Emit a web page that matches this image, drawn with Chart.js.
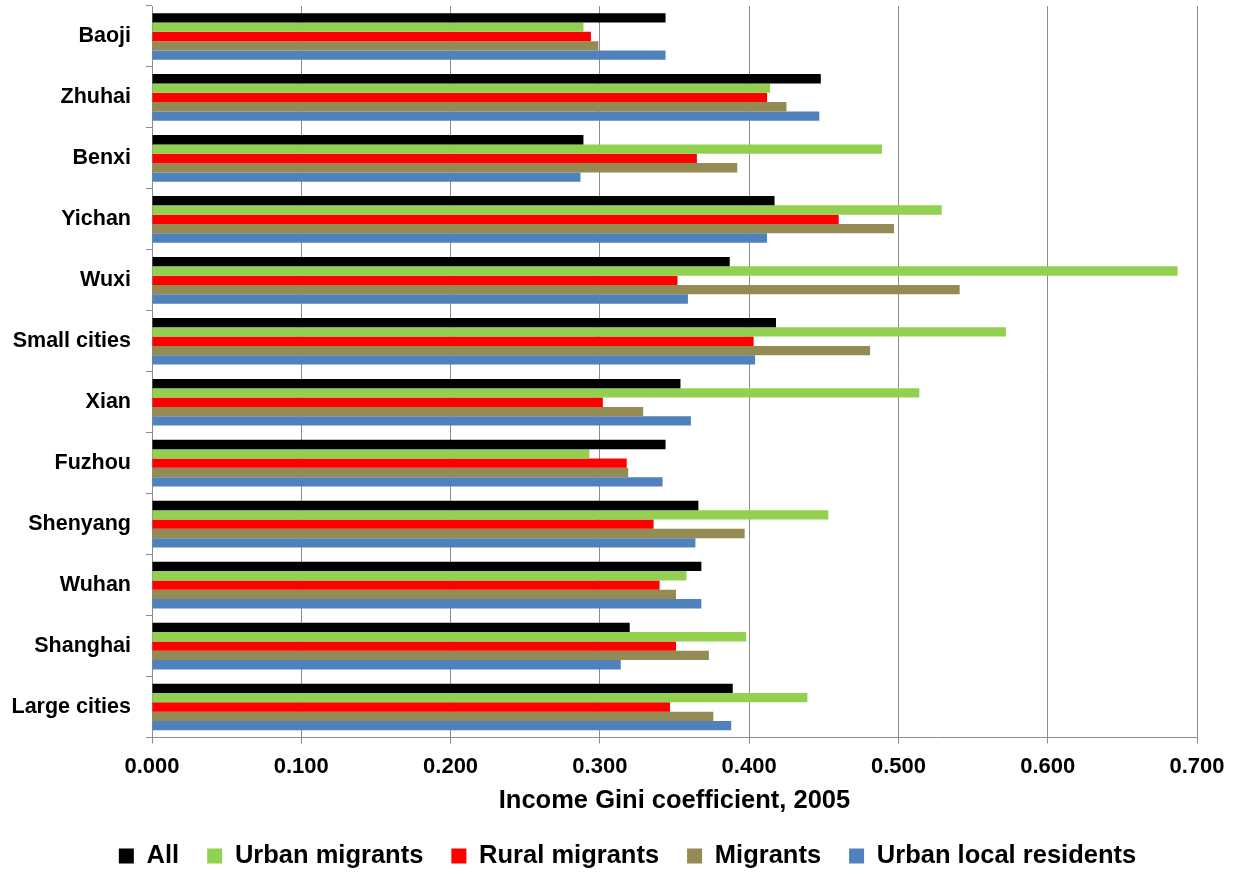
<!DOCTYPE html>
<html>
<head>
<meta charset="utf-8">
<script src="https://cdn.jsdelivr.net/npm/chart.js@4.4.1/dist/chart.umd.min.js"></script>
<style>
  html, body { margin: 0; padding: 0; background: #ffffff; }
  #wrap { width: 1236px; height: 874px; position: relative; }
</style>
</head>
<body>
<div id="wrap"><canvas id="gini"></canvas></div>
<script>
// Income Gini coefficients by city and population group, 2005
const cities = ['Baoji', 'Zhuhai', 'Benxi', 'Yichan', 'Wuxi', 'Small cities',
                'Xian', 'Fuzhou', 'Shenyang', 'Wuhan', 'Shanghai', 'Large cities'];

const giniAll            = [0.344, 0.448, 0.289, 0.417, 0.387, 0.418, 0.354, 0.344, 0.366, 0.368, 0.320, 0.389];
const giniUrbanMigrants  = [0.289, 0.414, 0.489, 0.529, 0.687, 0.572, 0.514, 0.293, 0.453, 0.358, 0.398, 0.439];
const giniRuralMigrants  = [0.294, 0.412, 0.365, 0.460, 0.352, 0.403, 0.302, 0.318, 0.336, 0.340, 0.351, 0.347];
const giniMigrants       = [0.299, 0.425, 0.392, 0.497, 0.541, 0.481, 0.329, 0.319, 0.397, 0.351, 0.373, 0.376];
const giniUrbanLocals    = [0.344, 0.447, 0.287, 0.412, 0.359, 0.404, 0.361, 0.342, 0.364, 0.368, 0.314, 0.388];

const xTicks = [0, 0.1, 0.2, 0.3, 0.4, 0.5, 0.6, 0.7];

const FONT = "'Liberation Sans', Arial, Helvetica, sans-serif";
const GRID = '#8c8c8c';

const series = [
  { label: 'All',                   data: giniAll,           color: '#000000' },
  { label: 'Urban migrants',        data: giniUrbanMigrants, color: '#92D050' },
  { label: 'Rural migrants',        data: giniRuralMigrants, color: '#FF0000' },
  { label: 'Migrants',              data: giniMigrants,      color: '#948A54' },
  { label: 'Urban local residents', data: giniUrbanLocals,   color: '#4F81BD' }
];

// Centre the legend row under the plot area plus its axis labels
const legendShift = {
  id: 'legendShift',
  afterLayout(chart) {
    const lg = chart.legend;
    if (lg) { lg.left += 29; lg.right += 29; }
  }
};

new Chart(document.getElementById('gini'), {
  type: 'bar',
  data: {
    labels: cities,
    datasets: series.map(s => ({
      label: s.label,
      data: s.data,
      backgroundColor: s.color,
      borderWidth: 0,
      categoryPercentage: 0.765,
      barPercentage: 1.0
    }))
  },
  plugins: [legendShift],
  options: {
    indexAxis: 'y',
    responsive: true,
    maintainAspectRatio: false,
    animation: false,
    layout: { padding: { top: 6, right: 39, left: 0, bottom: -4.75 } },
    plugins: {
      tooltip: { enabled: false },
      legend: {
        position: 'bottom',
        labels: {
          color: '#000000',
          font: { family: FONT, size: 25.5, weight: 'bold' },
          boxWidth: 15,
          boxHeight: 15,
          padding: 28
        }
      }
    },
    scales: {
      x: {
        min: 0,
        max: 0.7,
        afterBuildTicks: scale => { scale.ticks = xTicks.map(v => ({ value: v })); },
        afterFit: scale => { scale.height = 77.75; },
        ticks: {
          color: '#000000',
          font: { family: FONT, size: 22, weight: 'bold' },
          padding: 10,
          callback: v => Number(v).toFixed(3)
        },
        grid: { color: GRID, lineWidth: 1, tickLength: 6 },
        border: { color: GRID, width: 1 },
        title: {
          display: true,
          text: 'Income Gini coefficient, 2005',
          color: '#000000',
          font: { family: FONT, size: 25.5, weight: 'bold' },
          padding: { top: 0, bottom: -1 }
        }
      },
      y: {
        afterFit: scale => {
          scale.width = 152;
          scale.paddingTop = 0;
          scale.paddingBottom = 0;
        },
        ticks: {
          color: '#000000',
          font: { family: FONT, size: 21.5, weight: 'bold' },
          padding: 15
        },
        grid: { drawOnChartArea: false, color: GRID, tickLength: 6, offset: true },
        border: { color: GRID, width: 1 }
      }
    }
  }
});
</script>
</body>
</html>
